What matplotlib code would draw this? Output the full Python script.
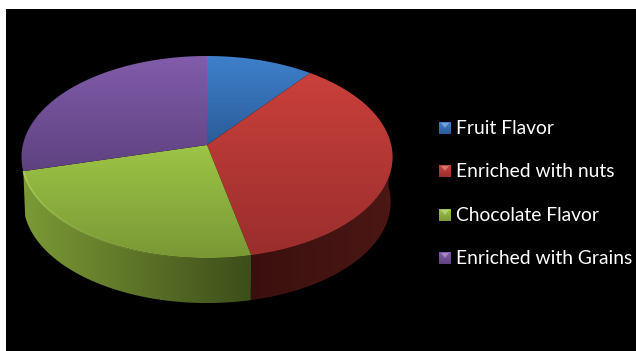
import numpy as np
import matplotlib
matplotlib.use("Agg")
import matplotlib.pyplot as plt
from matplotlib.collections import LineCollection
from matplotlib.colors import to_rgb
from matplotlib.patches import Polygon, Rectangle

labels = ["Fruit Flavor", "Enriched with nuts", "Chocolate Flavor", "Enriched with Grains"]
values = [10.5, 36.1, 24.3, 29.1]

top_colors = ["#3f80cc", "#ca403b", "#9dc546", "#825cab"]
low_colors = ["#2a5c98", "#9a2e2d", "#7a9836", "#5e4280"]
# only the front wedges show a side wall (left colour, right colour)
side_colors = [None, ("#3a100e", "#4c1714"), ("#7c9a36", "#3d4e1a"), None]
legend_y = [128, 171, 215, 258]

# perspective of the disc, in pixels
cx, cy = 207, 145
rx, ry, persp = 184.2, 99.6, 0.119
depth = 45


def project(angles, shift=0.0, scale=1.0):
    u, v = np.sin(angles), np.cos(angles)
    w = 1 + persp * v
    return np.column_stack([cx + scale * rx * u / w, cy - ry * v / w + shift])


def gradient_fill(ax, pts, c0, c1, vertical=True):
    x0, x1 = pts[:, 0].min(), pts[:, 0].max()
    y0, y1 = pts[:, 1].min(), pts[:, 1].max()
    t = np.linspace(0, 1, 256)[:, None]
    img = (1 - t) * np.array(to_rgb(c0)) + t * np.array(to_rgb(c1))
    img = img[:, None, :] if vertical else img[None, :, :]
    im = ax.imshow(img, extent=(x0, x1, y1, y0), aspect="auto", interpolation="bilinear", zorder=2)
    poly = Polygon(pts, closed=True, fc="none", ec="none", transform=ax.transData)
    ax.add_patch(poly)
    im.set_clip_path(poly)


fig = plt.figure(figsize=(6.36, 3.51), dpi=100, facecolor="white")
ax = fig.add_axes([0, 0, 1, 1])
ax.add_patch(Rectangle((6, 9), 630, 342, fc="black", ec="none", zorder=1))

edges = np.radians(np.cumsum([0] + values) / sum(values) * 360)

# side walls first so the top surface sits over them
for i in range(len(values)):
    if side_colors[i] is None:
        continue
    start = edges[i]
    end = edges[i + 1]
    start = max(start, np.radians(88))
    arc = np.linspace(start, end, 120)
    wall = np.vstack([project(arc), project(arc[::-1], depth, 0.99)])
    gradient_fill(ax, wall, side_colors[i][0], side_colors[i][1], vertical=False)

# top surface, each wedge with its own shading
for i in range(len(values)):
    arc = np.linspace(edges[i], edges[i + 1], 160)
    wedge = np.vstack([[cx, cy], project(arc)])
    gradient_fill(ax, wedge, top_colors[i], low_colors[i])

# light rim along the front of the chocolate wedge, fading towards the middle
rim = project(np.linspace(edges[2] + 0.2, edges[3], 100))
segs = np.stack([rim[:-1], rim[1:]], axis=1)
rim_rgba = np.tile(to_rgb("#bfe06a") + (0.0,), (len(segs), 1))
rim_rgba[:, 3] = np.linspace(0, 0.9, len(segs)) ** 1.3
ax.add_collection(LineCollection(segs, colors=rim_rgba, linewidths=1.1, zorder=3))

# legend
for i, label in enumerate(labels):
    y = legend_y[i]
    box = np.array([[439, y - 6], [451, y - 6], [451, y + 6], [439, y + 6]], dtype=float)
    gradient_fill(ax, box, top_colors[i], low_colors[i])
    shine = Polygon([[441, y - 5], [449, y - 5], [445, y]], fc="white", ec="none", alpha=0.3, zorder=3)
    ax.add_patch(shine)
    ax.text(456, y + 6, label, color="white", fontsize=13.9, family="Lato", va="baseline", ha="left", zorder=4)

ax.set_xlim(0, 636)
ax.set_ylim(351, 0)
ax.axis("off")
fig.savefig("out.png", dpi=100, facecolor="white")
